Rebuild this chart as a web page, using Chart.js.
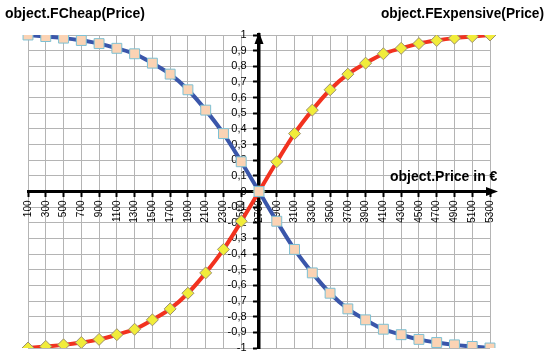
<!DOCTYPE html>
<html>
<head>
<meta charset="utf-8">
<script src="https://cdn.jsdelivr.net/npm/chart.js@4.4.1/dist/chart.umd.min.js"></script>
<style>
  body { margin: 0; background: #fff; }
  #wrap { width: 550px; height: 361px; }
</style>
</head>
<body>
<div id="wrap"><canvas id="chart" width="550" height="361"></canvas></div>
<script>
const prices = [100, 300, 500, 700, 900, 1100, 1300, 1500, 1700, 1900, 2100, 2300, 2500,
    2700, 2900, 3100, 3300, 3500, 3700, 3900, 4100, 4300, 4500, 4700, 4900, 5100, 5300];
const fCheap = [1, 0.99, 0.98, 0.965, 0.945, 0.915, 0.88, 0.82, 0.75, 0.65, 0.52, 0.37, 0.19,
    0, -0.19, -0.37, -0.52, -0.65, -0.75, -0.82, -0.88, -0.915, -0.945, -0.965, -0.98, -0.99, -1];
const fExpensive = [-1, -0.99, -0.98, -0.965, -0.945, -0.915, -0.88, -0.82, -0.75, -0.65, -0.52, -0.37, -0.19,
    0, 0.19, 0.37, 0.52, 0.65, 0.75, 0.82, 0.88, 0.915, 0.945, 0.965, 0.98, 0.99, 1];
const crossPrice = 2700;
const titleCheap = 'object.FCheap(Price)';
const titleExpensive = 'object.FExpensive(Price)';
const titleAxis = 'object.Price in €';

const crossIndex = prices.indexOf(crossPrice);

// titles + axis arrows
const extras = {
    id: 'extras',
    afterDraw(chart) {
        const ctx = chart.ctx;
        const area = chart.chartArea;
        const ax = chart.scales.x.getPixelForValue(crossIndex);
        const ay = chart.scales.y.getPixelForValue(0);
        ctx.save();
        ctx.fillStyle = '#000';
        ctx.beginPath();
        ctx.moveTo(ax, area.top - 3);
        ctx.lineTo(ax - 4.5, area.top + 9);
        ctx.lineTo(ax + 4.5, area.top + 9);
        ctx.closePath();
        ctx.fill();
        ctx.beginPath();
        ctx.moveTo(area.right + 8, ay);
        ctx.lineTo(area.right - 4, ay - 4.5);
        ctx.lineTo(area.right - 4, ay + 4.5);
        ctx.closePath();
        ctx.fill();

        ctx.font = 'bold 14px "Liberation Sans"';
        ctx.textBaseline = 'alphabetic';
        ctx.textAlign = 'left';
        ctx.fillText(titleCheap, 5, 18, 140);
        ctx.textAlign = 'right';
        ctx.fillText(titleExpensive, 544, 18, 163);
        ctx.textAlign = 'left';
        ctx.fillText(titleAxis, 390, 181, 120);
        ctx.restore();
    }
};

const fmt = v => String(Math.round(v * 10) / 10).replace('.', ',');
const tickFont = { family: 'Liberation Sans', size: 11 };

new Chart(document.getElementById('chart'), {
    type: 'line',
    data: {
        labels: prices,
        datasets: [{
            label: titleCheap,
            data: fCheap,
            borderColor: '#3a56aa',
            borderWidth: 4,
            tension: 0.35,
            pointStyle: 'rect',
            pointRadius: 7,
            pointBackgroundColor: '#fbd3b4',
            pointBorderColor: '#7cc0d4',
            pointBorderWidth: 1
        }, {
            label: titleExpensive,
            data: fExpensive,
            borderColor: '#f2321f',
            borderWidth: 4,
            tension: 0.35,
            pointStyle: 'rectRot',
            pointRadius: 6,
            pointBackgroundColor: '#f1ec3a',
            pointBorderColor: '#9c9070',
            pointBorderWidth: 1
        }]
    },
    options: {
        responsive: false,
        animation: false,
        layout: { padding: { left: 28, right: 60, top: 35, bottom: 13 } },
        plugins: { legend: { display: false }, tooltip: { enabled: false } },
        scales: {
            x: {
                type: 'category',
                position: { y: 0 },
                afterFit(scale) { scale.height = 0; },
                grid: { color: '#b4b4b4', lineWidth: 1, tickColor: '#000', tickLength: 4, tickWidth: 2 },
                border: { color: '#000', width: 3 },
                ticks: {
                    autoSkip: false, minRotation: 90, maxRotation: 90, padding: 5,
                    color: '#000', font: { family: 'Liberation Sans', size: 10 }
                }
            },
            y: {
                min: -1, max: 1,
                position: { x: crossIndex },
                afterFit(scale) { scale.width = 0; },
                grid: { color: '#b4b4b4', lineWidth: 1, tickColor: '#000', tickLength: 4, tickWidth: 2 },
                border: { color: '#000', width: 3.5 },
                ticks: { stepSize: 0.1, autoSkip: false, display: false }
            },
            // label-only axis, sits just left of the crossing axis
            yLabels: {
                type: 'linear',
                min: -1, max: 1,
                position: { x: crossIndex - 0.7 },
                afterFit(scale) { scale.width = 0; },
                grid: { display: false },
                border: { display: false },
                ticks: {
                    stepSize: 0.1, autoSkip: false, color: '#000', font: tickFont,
                    callback: v => fmt(v)
                }
            }
        }
    },
    plugins: [extras]
});
</script>
</body>
</html>
